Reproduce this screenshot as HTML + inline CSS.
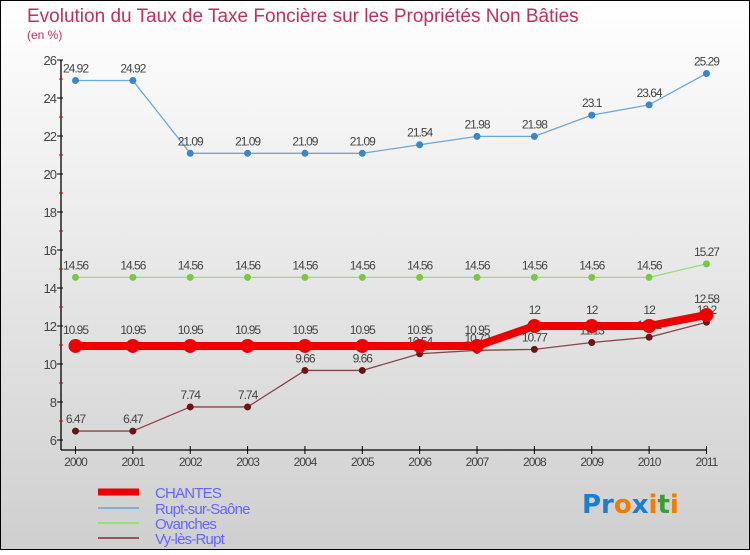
<!DOCTYPE html>
<html><head><meta charset="utf-8"><style>
html,body{margin:0;padding:0}
body{width:750px;height:550px;overflow:hidden;font-family:"Liberation Sans",sans-serif}
</style></head><body>
<svg id="chart" width="750" height="550" xmlns="http://www.w3.org/2000/svg">
<defs><linearGradient id="bg" x1="0" y1="0" x2="0" y2="1"><stop offset="0" stop-color="#ffffff"/><stop offset="1" stop-color="#cfcfcf"/></linearGradient></defs>
<rect x="0.5" y="0.5" width="749" height="549" fill="url(#bg)" stroke="#000" stroke-width="1"/>
<text x="27" y="22" font-size="19" fill="#c0305a">Evolution du Taux de Taxe Foncière sur les Propriétés Non Bâties</text>
<text x="27" y="39" font-size="12" fill="#c0305a">(en %)</text>
<g id="axes"></g>
<g id="series"></g>
<g id="legend"></g>
<text x="582" y="513" font-size="26" font-weight="bold" font-family="'DejaVu Sans',sans-serif"><tspan fill="#1a7fd0">Pr</tspan><tspan fill="#f07d00">o</tspan><tspan fill="#1a7fd0">x</tspan><tspan fill="#f07d00">i</tspan><tspan fill="#3aa035">t</tspan><tspan fill="#f07d00">i</tspan></text>
</svg>
<script>
const years=[2000,2001,2002,2003,2004,2005,2006,2007,2008,2009,2010,2011];
const chantes=[10.95,10.95,10.95,10.95,10.95,10.95,10.95,10.95,12,12,12,12.58];
const rupt=[24.92,24.92,21.09,21.09,21.09,21.09,21.54,21.98,21.98,23.1,23.64,25.29];
const ovanches=[14.56,14.56,14.56,14.56,14.56,14.56,14.56,14.56,14.56,14.56,14.56,15.27];
const vy=[6.47,6.47,7.74,7.74,9.66,9.66,10.54,10.72,10.77,11.13,11.41,12.2];
const yTicks=[6,8,10,12,14,16,18,20,22,24,26];
const seriesNames=["CHANTES","Rupt-sur-Saône","Ovanches","Vy-lès-Rupt"];

const NS="http://www.w3.org/2000/svg";
const xS=i=>75.5+i*57.36;
const yS=v=>440-(v-6)*19;
function mk(tag,attrs,parent,txt){const e=document.createElementNS(NS,tag);for(const k in attrs)e.setAttribute(k,attrs[k]);if(txt!==undefined)e.textContent=txt;parent.appendChild(e);return e;}
const axes=document.getElementById('axes'),sg=document.getElementById('series'),lg=document.getElementById('legend');
let a=mk('line',{x1:61,y1:yS(26),x2:61,y2:450,stroke:'#000','stroke-width':1.3},axes);


a=mk('line',{x1:61,y1:450,x2:xS(11),y2:450,stroke:'#000','stroke-width':1.3},axes);


yTicks.forEach(v=>{
  mk('line',{x1:57,y1:yS(v),x2:63,y2:yS(v),stroke:'#000'},axes);
  if(v<26)mk('line',{x1:59,y1:yS(v+1),x2:63,y2:yS(v+1),stroke:'#d00'},axes);
  const t=mk('text',{x:56,y:yS(v)+5,'text-anchor':'end','font-size':13,fill:'#444','letter-spacing':'-1'},axes,v);
  
  
});
years.forEach((y,i)=>{
  mk('line',{x1:xS(i),y1:446,x2:xS(i),y2:454,stroke:'#000'},axes);
  const t=mk('text',{x:xS(i),y:466,'text-anchor':'middle','font-size':12,fill:'#444','letter-spacing':'-1'},axes,y);
  
  
});
function drawSeries(data,name,color,w,r,fill,labelDy){
  const g=mk('g',{},sg);
  
  
  const l=mk('polyline',{points:data.map((v,i)=>xS(i)+','+yS(v)).join(' '),fill:'none',stroke:color,'stroke-width':w,'stroke-linejoin':'round'},g);
  
  
  data.forEach((v,i)=>{
    const c=mk('circle',{cx:xS(i),cy:yS(v),r:r,fill:fill},g);
    
    
    const t=mk('text',{x:xS(i),y:yS(v)-labelDy,'text-anchor':'middle','font-size':12,fill:'#444','letter-spacing':'-1'},g,String(v));
    
    
  });
}
drawSeries(rupt,'rupt-sur-saone','#6fa8d8',1.3,3.5,'#3a86c8',8);
drawSeries(ovanches,'ovanches','#99dd77',1.3,3.5,'#77c943',8);
drawSeries(vy,'vy-les-rupt','#8a4444',1.3,3.5,'#6a1515',8);
drawSeries(chantes,'chantes','#ee0000',8,7,'#ee0000',12);
const lc=['#ee0000','#80b0d8','#99dd77','#995555'],lw=[7,2,2,2],ly=[492,508,523,538];
seriesNames.forEach((n,i)=>{
  const l=mk('line',{x1:98,y1:ly[i],x2:139,y2:ly[i],stroke:lc[i],'stroke-width':lw[i]},lg);
  
  
  const t=mk('text',{x:155,y:ly[i]+6,'font-size':15,fill:'#6666ff','letter-spacing':'-0.8'},lg,n);
  
  
});
</script>
</body></html>
